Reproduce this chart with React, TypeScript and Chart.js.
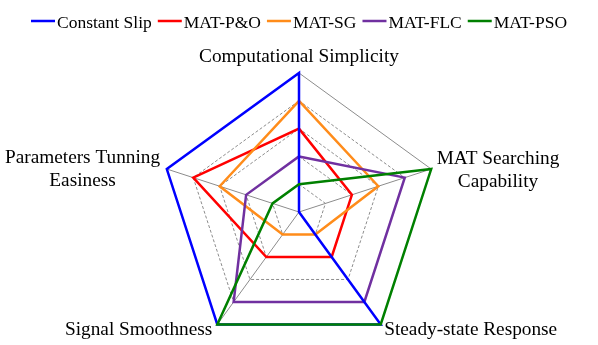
import React, { useEffect, useRef } from "react";
import { Chart, registerables } from "chart.js";

Chart.register(...registerables);

// ---- data ----
const categories: (string | string[])[] = [
  "Computational Simplicity",
  ["MAT Searching", "Capability"],
  "Steady-state Response",
  "Signal Smoothness",
  ["Parameters Tunning", "Easiness"],
];
const seriesNames = ["Constant Slip", "MAT-P&O", "MAT-SG", "MAT-FLC", "MAT-PSO"];
const constantSlip = [5, 0, 5, 5, 5];
const matPO = [3, 2, 2, 2, 4];
const matSG = [4, 3, 1, 1, 3];
const matFLC = [2, 4, 4, 4, 2];
const matPSO = [1, 5, 5, 5, 1];
const seriesColors = ["#0000ff", "#ff0000", "#ff8c1a", "#7030a0", "#008000"];
const drawOrder = [1, 4, 3, 2, 0];

const FONT_FAMILY = '"Liberation Serif", "Times New Roman", serif';
const LABEL_FONT = 19.3;
const LEGEND_FONT = 17.5;

// label placement relative to each axis vertex: [align, dx, dy of first baseline]
const labelPlacement: { align: "center" | "left" | "right"; dx: number; dy: number }[] = [
  { align: "center", dx: 0, dy: -11 },
  { align: "left", dx: 5.5, dy: -5 },
  { align: "left", dx: 3.5, dy: 10.7 },
  { align: "right", dx: 5, dy: 10.7 },
  { align: "right", dx: 6.7, dy: -5.6 },
];
const LINE_H = 22.5;

const pointLabelPlugin = {
  id: "customPointLabels",
  afterDraw(chart: any) {
    const scale = chart.scales.r;
    const ctx = chart.ctx;
    ctx.save();
    ctx.font = `${LABEL_FONT}px ${FONT_FAMILY}`;
    ctx.fillStyle = "#000";
    ctx.textBaseline = "alphabetic";
    categories.forEach((lab, i) => {
      const p = scale.getPointPosition(i, scale.drawingArea);
      const lines = Array.isArray(lab) ? lab : [lab];
      const pl = labelPlacement[i];
      const maxW = Math.max(...lines.map((l) => ctx.measureText(l).width));
      let cx = p.x;
      if (pl.align === "left") cx = p.x + pl.dx + maxW / 2;
      else if (pl.align === "right") cx = p.x - pl.dx - maxW / 2;
      ctx.textAlign = "center";
      lines.forEach((l, k) => {
        ctx.fillText(l, cx, p.y + pl.dy + k * LINE_H);
      });
    });
    ctx.restore();
  },
};

const legendPlugin = {
  id: "customLegend",
  afterDraw(chart: any) {
    const ctx = chart.ctx;
    const ds = chart.data.datasets;
    const lineLen = 24;
    const gap = 2;
    const itemGap = 6;
    ctx.save();
    ctx.font = `${LEGEND_FONT}px ${FONT_FAMILY}`;
    const widths = ds.map((d: any) => lineLen + gap + ctx.measureText(d.label).width);
    const total = widths.reduce((a: number, b: number) => a + b, 0) + itemGap * (ds.length - 1);
    let x = (chart.width - total) / 2;
    const lineY = 21;
    const baseY = 27.5;
    ds.forEach((d: any, i: number) => {
      ctx.strokeStyle = d.borderColor;
      ctx.lineWidth = 2.5;
      ctx.beginPath();
      ctx.moveTo(x, lineY);
      ctx.lineTo(x + lineLen, lineY);
      ctx.stroke();
      ctx.fillStyle = "#000";
      ctx.textAlign = "left";
      ctx.textBaseline = "alphabetic";
      ctx.fillText(d.label, x + lineLen + gap, baseY);
      x += widths[i] + itemGap;
    });
    ctx.restore();
  },
};

export default function App() {
  const ref = useRef<HTMLCanvasElement>(null);
  useEffect(() => {
    if (!ref.current) return;
    const values = [constantSlip, matPO, matSG, matFLC, matPSO];
    const chart = new Chart(ref.current, {
      type: "radar",
      data: {
        labels: categories as any,
        datasets: values.map((v, i) => ({
          label: seriesNames[i],
          data: v,
          borderColor: seriesColors[i],
          backgroundColor: "transparent",
          borderWidth: 2.5,
          pointRadius: 0,
          pointHoverRadius: 0,
          fill: false,
          tension: 0,
          borderJoinStyle: "miter",
          clip: false,
          order: drawOrder[i],
        })) as any,
      },
      options: {
        animation: false,
        responsive: false,
        events: [],
        layout: { padding: { top: 73, bottom: 0, left: 0, right: 0 } },
        plugins: { legend: { display: false }, tooltip: { enabled: false } },
        scales: {
          r: {
            min: 0,
            max: 5,
            beginAtZero: true,
            ticks: { display: false, stepSize: 1 },
            pointLabels: { display: false },
            angleLines: { display: true, color: "#8c8c8c", lineWidth: 1 },
            grid: { circular: false, color: "#8c8c8c", lineWidth: 1 },
            border: {
              dash: (c: any) => (c.tick && c.tick.value === 5 ? [] : [3, 2]),
            } as any,
          },
        },
      } as any,
      plugins: [pointLabelPlugin, legendPlugin],
    });
    return () => chart.destroy();
  }, []);
  return (
    <div
      style={{
        position: "fixed",
        left: 0,
        top: 0,
        width: 598,
        height: 345,
        overflow: "hidden",
        background: "#fff",
      }}
    >
      <canvas ref={ref} width={598} height={351} style={{ display: "block" }} />
    </div>
  );
}
